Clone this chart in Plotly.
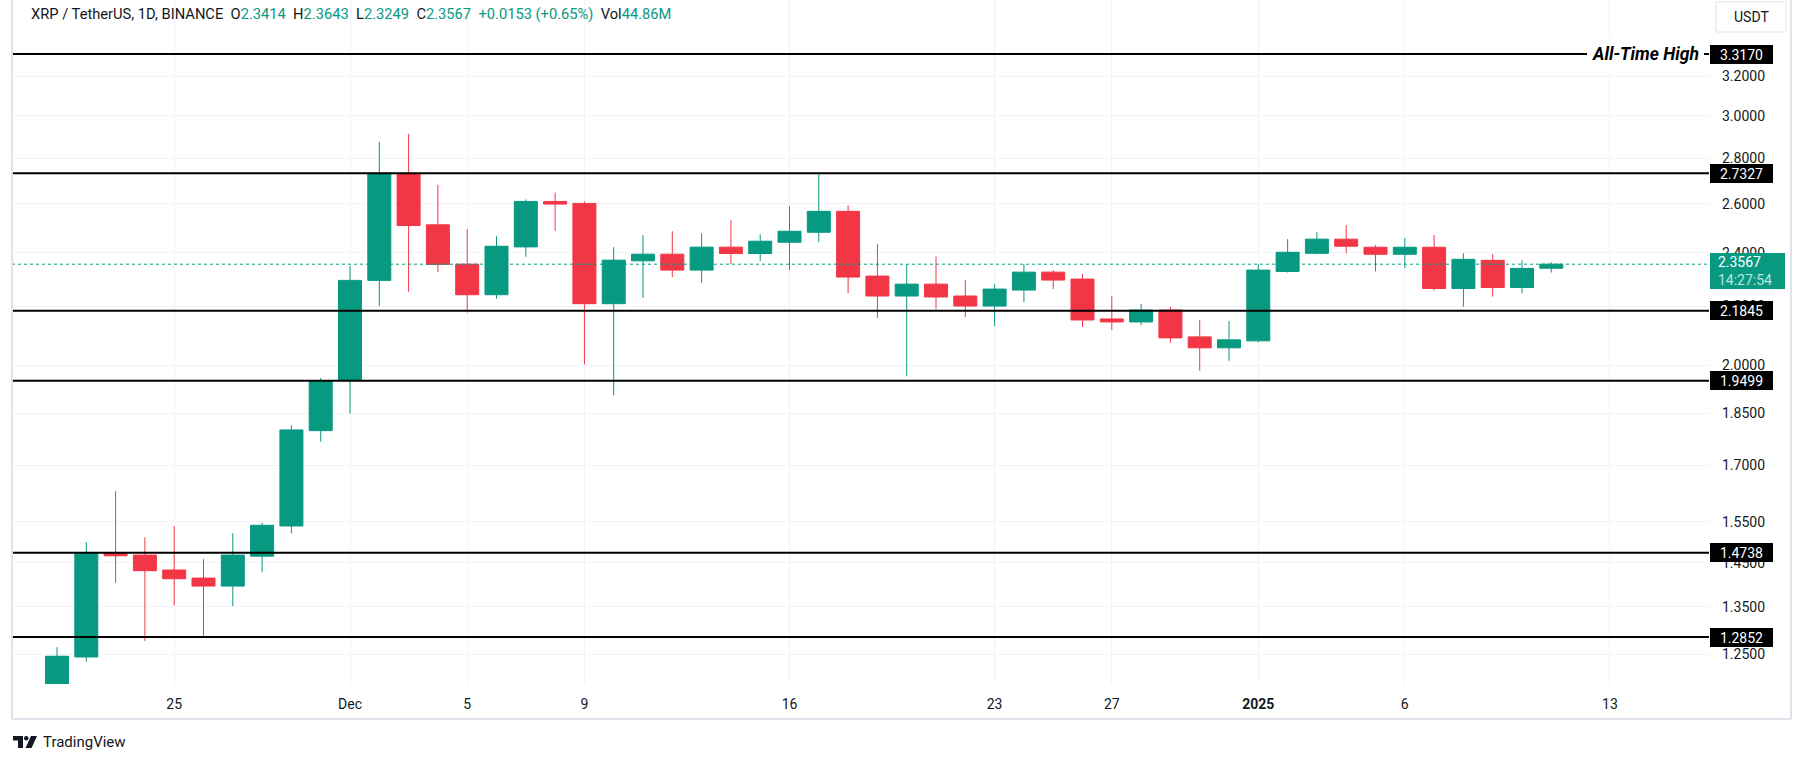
import math
import pandas as pd
import plotly.graph_objects as go

# ---------------- data ----------------
dates = pd.date_range("2024-11-21", "2025-01-11", freq="D")
opens = [1.1040, 1.2442, 1.4727, 1.4684, 1.4332, 1.4145, 1.3962, 1.4659, 1.5396, 1.7978,
         1.9520, 2.2954, 2.7313, 2.5125, 2.3568, 2.2425, 2.4239, 2.6099, 2.6015, 2.2100,
         2.3696, 2.3953, 2.3341, 2.4228, 2.3979, 2.4424, 2.4823, 2.5682, 2.3115, 2.2378,
         2.2815, 2.2378, 2.2016, 2.2595, 2.3264, 2.3003, 2.1558, 2.1454, 2.1876, 2.0939,
         2.0570, 2.0804, 2.3291, 2.3988, 2.4545, 2.4225, 2.3950, 2.4225, 2.2653, 2.3715,
         2.2690, 2.3414]
highs = [1.2642, 1.4999, 1.6296, 1.5115, 1.5396, 1.4588, 1.5214, 1.5479, 1.8138, 1.9589,
         2.3505, 2.8755, 2.9133, 2.6818, 2.4953, 2.4660, 2.6183, 2.6475, 2.6099, 2.4228,
         2.4702, 2.4863, 2.4784, 2.5307, 2.4742, 2.5891, 2.7283, 2.5932, 2.4346, 2.3568,
         2.3871, 2.2966, 2.2815, 2.3568, 2.3341, 2.3189, 2.2378, 2.2089, 2.1982, 2.1523,
         2.1490, 2.3568, 2.4545, 2.4829, 2.5114, 2.4306, 2.4586, 2.4707, 2.3988, 2.3950,
         2.3715, 2.3643]
lows = [1.0890, 1.2350, 1.4037, 1.2770, 1.3532, 1.2867, 1.3516, 1.4282, 1.5214, 1.7662,
        1.8484, 2.2021, 2.2534, 2.3268, 2.1782, 2.2281, 2.3850, 2.4876, 2.0022, 1.9041,
        2.2306, 2.3078, 2.2867, 2.3568, 2.3684, 2.3341, 2.4424, 2.2486, 2.1595, 1.9637,
        2.1910, 2.1629, 2.1314, 2.2160, 2.2632, 2.1280, 2.1177, 2.1350, 2.0737, 1.9818,
        2.0142, 2.0750, 2.3250, 2.3950, 2.3988, 2.3291, 2.3420, 2.2579, 2.1995, 2.2357,
        2.2467, 2.3249]
closes = [1.2456, 1.4727, 1.4667, 1.4316, 1.4130, 1.3962, 1.4684, 1.5414, 1.7999, 1.9496,
          2.2954, 2.7313, 2.5095, 2.3558, 2.2425, 2.4265, 2.6099, 2.5986, 2.2100, 2.3722,
          2.3953, 2.3341, 2.4228, 2.3979, 2.4464, 2.4863, 2.5682, 2.3078, 2.2378, 2.2815,
          2.2342, 2.2016, 2.2632, 2.3264, 2.2966, 2.1523, 2.1454, 2.1876, 2.0905, 2.0570,
          2.0838, 2.3341, 2.4028, 2.4545, 2.4267, 2.3950, 2.4225, 2.2653, 2.3754, 2.2690,
          2.3406, 2.3567]

levels = [3.3170, 2.7327, 2.1845, 1.9499, 1.4738, 1.2852]
ath_level = 3.3170
ath_label = "All-Time High"

price_ticks = [1.25, 1.35, 1.45, 1.55, 1.70, 1.85, 2.00, 2.20, 2.40, 2.60, 2.80, 3.00, 3.20]
date_ticks = ["2024-11-25", "2024-12-01", "2024-12-05", "2024-12-09", "2024-12-16",
              "2024-12-23", "2024-12-27", "2025-01-01", "2025-01-06", "2025-01-13"]
date_tick_labels = ["25", "Dec", "5", "9", "16", "23", "27", "<b>2025</b>", "6", "13"]

symbol_title = "XRP / TetherUS, 1D, BINANCE"
volume_text = "44.86M"
countdown = "14:27:54"
quote_ccy = "USDT"

x_range = ["2024-11-19 11:08", "2025-01-16 09:10"]
y_range = [1.1907, 3.6215]

# ---------------- style / layout helpers ----------------
GREEN = "#089981"
RED = "#F23645"
TXT = "#131722"
GRID = "#f0f3fa"
FONT = "Roboto"

W, H = 1804, 764
L, R, T, B = 12, 1709, 0, 684   # plot area in pixels


def px(x):
    return (x - L) / (R - L)


def py(y):
    return (B - y) / (B - T)


fig = go.Figure()

# current price dotted line (under candles)
fig.add_trace(go.Scatter(x=x_range, y=[closes[-1], closes[-1]], mode="lines",
                         line=dict(color=GREEN, width=1, dash="dot"),
                         hoverinfo="skip", showlegend=False))

fig.add_trace(go.Candlestick(
    x=dates, open=opens, high=highs, low=lows, close=closes,
    increasing=dict(line=dict(color=GREEN, width=1), fillcolor=GREEN),
    decreasing=dict(line=dict(color=RED, width=1), fillcolor=RED),
    whiskerwidth=0, showlegend=False))

# horizontal levels
for lv in levels:
    fig.add_trace(go.Scatter(x=x_range, y=[lv, lv], mode="lines",
                             line=dict(color="black", width=2),
                             hoverinfo="skip", showlegend=False))

annotations = []
for lv in levels:
    annotations.append(dict(
        x=1, xref="paper", xanchor="left", xshift=1,
        y=math.log10(lv), yref="y", yanchor="middle",
        text=f"{lv:.4f}", showarrow=False, align="center",
        font=dict(family=FONT, size=14, color="white"),
        bgcolor="black", borderpad=1.5, borderwidth=0, width=60))

# current price label
o, h, l, c = opens[-1], highs[-1], lows[-1], closes[-1]
annotations.append(dict(
    x=1, xref="paper", xanchor="left", xshift=1,
    y=math.log10(c), yref="y", yanchor="top", yshift=11,
    text=f"&nbsp;&nbsp;{c:.4f}<br>&nbsp;&nbsp;<span style='color:rgba(255,255,255,0.75)'>{countdown}</span>",
    showarrow=False, align="left",
    font=dict(family=FONT, size=14, color="white"),
    bgcolor=GREEN, borderpad=1, borderwidth=0, width=73))

# ATH label
annotations.append(dict(
    x=px(1704), xref="paper", xanchor="right",
    y=math.log10(ath_level), yref="y", yanchor="middle",
    text=f"<b><i>{ath_label}</i></b>", showarrow=False,
    font=dict(family=FONT, size=17.5, color="black"),
    bgcolor="white", borderpad=5, borderwidth=0))

# title / OHLC legend
chg = c - o
pct = chg / o * 100
gs = "<span style='color:%s'>" % GREEN
title = (f"{symbol_title}&nbsp;&nbsp;O{gs}{o:.4f}</span>&nbsp;&nbsp;H{gs}{h:.4f}</span>"
         f"&nbsp;&nbsp;L{gs}{l:.4f}</span>&nbsp;&nbsp;C{gs}{c:.4f}</span>"
         f"&nbsp;&nbsp;{gs}{chg:+.4f} ({pct:+.2f}%)</span>&nbsp;&nbsp;Vol{gs}{volume_text}</span>")
annotations.append(dict(
    x=px(29), xref="paper", xanchor="left", y=py(14), yref="paper", yanchor="middle",
    text=title, showarrow=False, font=dict(family=FONT, size=14.7, color=TXT)))

# currency button
annotations.append(dict(
    x=px(1751), xref="paper", xanchor="center", y=py(17), yref="paper", yanchor="middle",
    text=quote_ccy, showarrow=False, font=dict(family=FONT, size=14, color=TXT)))

# TradingView brand text
annotations.append(dict(
    x=px(41), xref="paper", xanchor="left", y=py(742), yref="paper", yanchor="middle",
    text="TradingView", showarrow=False, font=dict(family=FONT, size=15, color=TXT)))

shapes = []
# currency button frame
shapes.append(dict(type="rect", xref="paper", yref="paper",
                   x0=px(1716), x1=px(1786), y0=py(2), y1=py(32),
                   line=dict(color="#e0e3eb", width=1), fillcolor="white"))
# chart frame
for (x0, y0, x1, y1) in [(12, 0, 12, 719), (12, 719, 1791, 719), (1791, 0, 1791, 719)]:
    shapes.append(dict(type="line", xref="paper", yref="paper",
                       x0=px(x0), x1=px(x1), y0=py(y0), y1=py(y1),
                       line=dict(color="#e0e3eb", width=2)))


# TradingView logo
def pp(points):
    return "M " + " L ".join(f"{px(a)},{py(b)}" for a, b in points) + " Z"


shapes.append(dict(type="path", xref="paper", yref="paper",
                   path=pp([(13, 736), (23, 736), (23, 748), (18, 748), (18, 740.5), (13, 740.5)]),
                   fillcolor=TXT, line=dict(width=0)))
shapes.append(dict(type="circle", xref="paper", yref="paper",
                   x0=px(24), x1=px(28.5), y0=py(736), y1=py(740.5),
                   fillcolor=TXT, line=dict(width=0)))
shapes.append(dict(type="path", xref="paper", yref="paper",
                   path=pp([(31, 736), (37, 736), (31.5, 748), (25.5, 748)]),
                   fillcolor=TXT, line=dict(width=0)))

fig.update_layout(
    width=W, height=H,
    margin=dict(l=L, r=W - R, t=T, b=H - B, pad=0),
    paper_bgcolor="white", plot_bgcolor="white",
    showlegend=False, hovermode=False,
    boxgap=0.215, boxgroupgap=0,
    annotations=annotations, shapes=shapes,
    font=dict(family=FONT, color=TXT),
    xaxis=dict(type="date", range=x_range, rangeslider=dict(visible=False),
               tickmode="array", tickvals=date_ticks, ticktext=date_tick_labels,
               showgrid=True, gridcolor=GRID, gridwidth=1, zeroline=False,
               showline=False, ticks="", ticklabelstandoff=10,
               tickfont=dict(family=FONT, size=14, color=TXT), automargin=False,
               fixedrange=True),
    yaxis=dict(type="log", range=[math.log10(y_range[0]), math.log10(y_range[1])],
               side="right", tickmode="array", tickvals=price_ticks,
               ticktext=[f"{v:.4f}" for v in price_ticks],
               showgrid=True, gridcolor=GRID, gridwidth=1, zeroline=False,
               showline=False, ticks="", ticklabelstandoff=12,
               tickfont=dict(family=FONT, size=14, color=TXT), automargin=False,
               fixedrange=True),
)

fig.write_html("out.html",
               config={"displayModeBar": False, "staticPlot": True},
               post_script="document.body.style.margin='0';document.body.style.padding='0';")
